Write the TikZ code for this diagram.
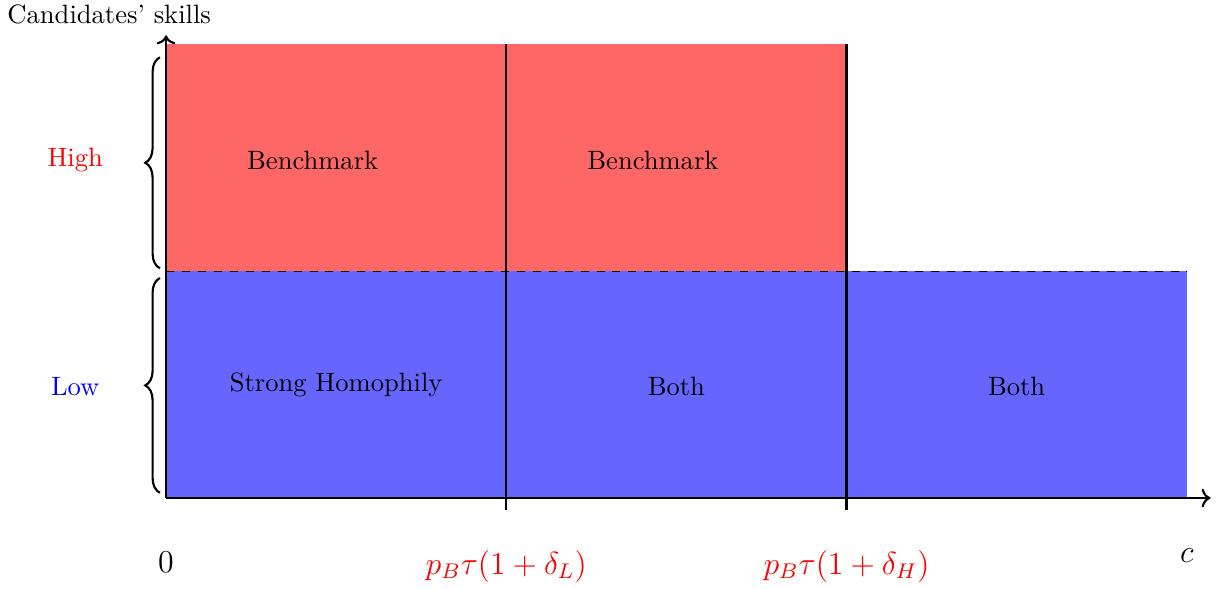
\documentclass[tikz,border=0pt]{standalone}
\usepackage{amsmath}
\usepackage{xcolor}
\usepackage{tikz}
\usetikzlibrary{arrows.meta,positioning,calc,decorations.pathreplacing}

\begin{document}
\begin{tikzpicture}[x=4.5cm,y=3cm,
  region/.style={font=\normalsize},
  skillbrace/.style={decorate,decoration={brace,amplitude=5.5pt},thick},
  cutline/.style={thick}]
  \useasboundingbox (-2.196cm,-1.19cm) rectangle (13.9cm,6.587cm);

  % regions
  \fill[red!60] (0,1) rectangle (2,2);
  \fill[blue!60] (0,0) rectangle (3,1);
  \draw[dashed] (0,1) -- (3,1);

  % axes
  \coordinate (o) at (0,0);
  \coordinate (xend) at (3.07,0);
  \coordinate (yend) at (0,2.04);
  \draw[->,thick] (o) -- (xend);
  \draw[->,thick] (o) -- (yend);

  % thresholds
  \coordinate (lo) at (1,-0.053);
  \coordinate (lotop) at (1,2);
  \coordinate (hi) at (2,-0.053);
  \coordinate (hitop) at (2,2);
  \draw[cutline] (lo) -- (lotop);
  \draw[cutline] (hi) -- (hitop);

  % braces
  \draw[skillbrace] (-0.018,1.013) -- (-0.018,1.943);
  \draw[skillbrace] (-0.018,0.023) -- (-0.018,0.97);
  \node[text=red] (high) at (-0.267,1.49) {High};
  \node[text=blue] (low) at (-0.267,0.49) {Low};

  % region labels
  \node[region] (bench1) at (0.431,1.49) {Benchmark};
  \node[region] (bench2) at (1.431,1.49) {Benchmark};
  \node[region] (strong) at (0.5,0.5) {Strong Homophily};
  \node[region] (both1) at (1.5,0.49) {Both};
  \node[region] (both2) at (2.5,0.49) {Both};

  % axis labels
  \node (ylab) at (-0.167,2.13) {Candidates' skills};
  \node[font=\large] (zero) at (0,-0.283) {$0$};
  \node[text=red,font=\large] (cl) at (1,-0.3) {$p_B\tau(1+\delta_L)$};
  \node[text=red,font=\large] (ch) at (2,-0.3) {$p_B\tau(1+\delta_H)$};
  \node[font=\large] (clab) at (3,-0.255) {$c$};
\end{tikzpicture}
\end{document}
